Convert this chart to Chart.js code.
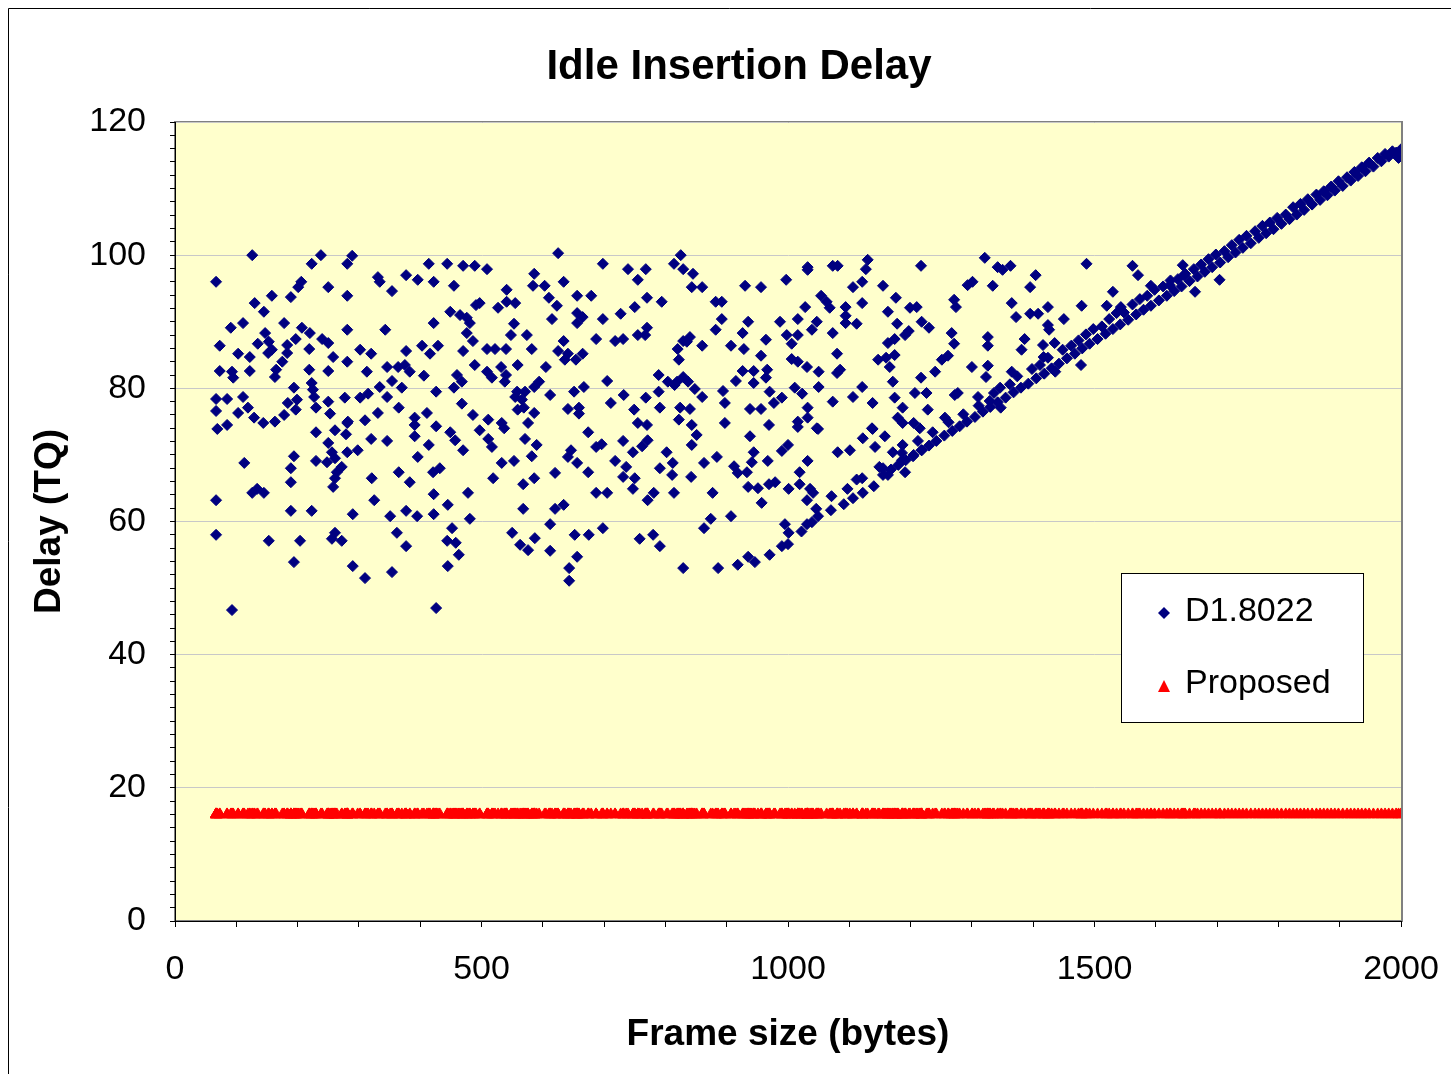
<!DOCTYPE html>
<html>
<head>
<meta charset="utf-8">
<title>Idle Insertion Delay</title>
<script src="https://cdn.jsdelivr.net/npm/chart.js@4.4.1/dist/chart.umd.min.js"></script>
<style>
    html, body { margin: 0; padding: 0; background: #ffffff; }
    #chart { display: block; }
</style>
</head>
<body>
<canvas id="chart" width="1451" height="1074"></canvas>
<script>
// Axis labels
const xTickLabels = [0, 500, 1000, 1500, 2000];
const yTickLabels = [0, 20, 40, 60, 80, 100, 120];

// D1.8022 - [frame size (bytes), delay (TQ)]
// cloud, 67..440 bytes
const d1CloudA = [
    [126,100],[238,100],[223,98.7],[289,99.9],[281,98.7],[67,96],[206,96],[201,95.2],[250,95.2],[331,96.7],
    [334,96],[354,94.6],[377,97],[396,96.3],[414,98.7],[422,96],[158,93.9],[189,93.7],[281,93.9],[130,92.8],
    [145,91.5],[91,89.1],[111,89.8],[178,89.8],[207,89.1],[220,88.3],[281,88.8],[343,88.8],[422,89.8],[73,86.4],
    [103,85.2],[122,84.7],[135,86.7],[147,88.3],[153,87],[152,85.3],[158,85.8],[183,86.5],[183,85.3],[197,87.4],
    [219,85.9],[240,87.4],[250,86.8],[258,84.7],[281,84],[302,85.8],[320,85.2],[377,85.6],[403,86.4],[416,85.2],
    [429,86.4],[73,82.6],[93,82.5],[95,81.6],[122,82.6],[165,82.8],[163,81.7],[175,84],[219,82.8],[250,82.6],
    [313,82.5],[346,83.2],[364,83.2],[375,83.5],[383,82.5],[354,81.1],[334,80.2],[370,80.1],[406,81.9],[426,79.5],
    [194,80.1],[223,80.8],[225,79.8],[67,78.4],[85,78.4],[111,78.7],[67,76.6],[103,76.3],[119,77.1],[129,75.6],
    [144,74.8],[163,75],[178,76],[184,77.8],[199,78.3],[197,76.8],[227,78.7],[230,77.1],[250,78],[253,76.2],
    [277,78.6],[281,74.8],[302,78.6],[315,79.2],[331,76.3],[310,75.2],[346,78.7],[365,77.1],[391,75.6],[391,74.5],
    [411,76.3],[426,74.3],[69,73.9],[85,74.5],[230,73.4],[261,73.7],[282,75],
    [279,73.1],[320,72.4],[346,72.1],[391,72.8],[414,71.5],[113,68.8],[194,69.8],[189,68],[230,69.1],[250,71.8],
    [256,70.4],[248,68.9],[261,69.5],[281,70.4],[298,70.7],[272,68.2],[264,67.4],[261,66.5],[258,65.2],[321,66.5],
    [365,67.4],[383,65.9],[396,69.7],[421,67.4],[432,68],[189,65.9],[126,64.3],[134,64.9],[145,64.3],[67,63.2],
    [325,63.2],[422,64.1],[189,61.6],[223,61.6],[290,61.1],[351,60.8],[377,61.6],[395,60.8],[422,61.1],[67,58],
    [153,57.1],[204,57.1],[256,57.4],[261,58.3],[272,57.1],[362,58.3],[377,56.3],[194,53.9],[290,53.3],[310,51.5],
    [354,52.4],[93,46.7],[426,47]
];
// cloud, 440..830 bytes
const d1CloudB = [
    [625,100.3],[444,98.7],[470,98.4],[489,98.4],[509,97.9],[455,95.4],[586,97.2],[584,95.4],[603,95.4],[634,96],
    [698,98.7],[739,97.9],[755,96.3],[768,97.9],[814,98.7],[825,100],[829,97.9],[541,94.8],[541,93],[555,92.8],
    [527,92.1],[491,92.5],[497,92.8],[610,93.6],[623,92.4],[656,93.9],[679,93.9],[750,92.2],[770,93.6],[794,93],
    [449,91.5],[465,91],[476,90.6],[481,89.8],[615,90.4],[656,91.3],[665,90.7],[656,89.8],[698,90.4],[727,91.2],
    [553,89.7],[548,88],[574,88],[476,88.3],[486,87.1],[582,85.9],[634,87.1],[687,87.4],[718,87.1],[731,87.4],
    [755,88],[770,89.1],[767,88],[470,85.6],[509,85.9],[522,85.9],[540,85.9],[625,85.6],[641,85.2],[636,84.3],
    [654,84.3],[665,85.2],[820,85.9],[822,84.3],[829,87.1],[489,83.5],[509,82.5],[532,83.2],[517,81.6],[540,82],
    [538,81],[559,83.5],[605,83.2],[460,82],[468,81],[455,80.1],[705,81.1],[789,82],[804,81],[819,81],
    [558,79.5],[555,78.7],[566,78.3],[571,79.5],[586,80.2],[594,81],[612,79],[651,79.5],[667,80.2],[711,77.8],
    [732,79],[768,78.6],[789,79.5],[791,77.1],[824,77.1],[468,77.7],[486,76],[511,75.3],[533,74.8],[497,73.7],
    [449,73.4],[559,76.8],[569,77.1],[586,76.3],[576,74.8],[641,76.9],[659,77.1],[659,76.2],[674,73.4],[749,76.8],
    [755,74.8],[770,74.5],[822,75.3],
    [457,72.2],[470,70.7],[511,72.4],[517,71.2],[537,74],[571,72.4],[590,71.5],[582,69.8],[533,68.8],[553,69.1],
    [519,66.5],[568,65.6],[586,66.5],[620,67.3],[687,71.2],[696,71.6],[646,70.7],[641,69.7],[656,68.8],[674,67.4],
    [718,69.1],[731,72.1],[747,70.4],[762,71.3],[771,72.2],[736,68.2],[731,66.7],[750,66.5],[747,64.9],[791,68],
    [812,68.8],[811,67],[802,70.4],[687,64.3],[705,64.3],[771,63.2],[781,64.3],[814,64.3],[445,62.5],[478,64.3],
    [481,60.4],[568,61.9],[620,61.9],[634,62.5],[612,59.6],[452,59],[444,57.1],[458,56.8],[463,55],[445,53.3],
    [550,58.3],[563,56.5],[576,55.7],[587,57.5],[612,55.6],[652,58],[675,58],[698,59],[656,54.7],[643,53],
    [643,51.1],[758,57.4],[780,58],[791,56.3],[829,53]
];
// cloud, 830..1000 bytes
const d1CloudC = [
    [845,97.2],[843,95.2],[860,95.2],[930,95.4],[956,95.2],[997,96.3],[882,93],[892,93],[892,90.4],[882,88.8],
    [935,90],[926,88.3],[987,90],[840,87.7],[835,87],[860,86.4],[907,86.4],[928,85.9],[964,87.3],[998,88],
    [956,84.9],[926,82.6],[944,82.6],[966,82.8],[964,81.6],[915,81.1],[944,80.8],[815,80.5],[829,81.7],[837,81],
    [848,79.9],[894,79.6],[897,77.8],[860,78.7],[970,79.5],[977,77.8],[990,78.6],[840,76.9],[938,76.9],[956,76.9],
    [843,74.5],[897,74.8],[969,74.5],
    [851,73],[843,71.5],[938,72.8],[863,68.8],[884,69.7],[842,66.7],[877,64.3],[912,68.3],[918,67.3],[933,67.4],
    [941,68.9],[944,70.4],[967,69.1],[990,70.6],[1000,71.5],[935,65.2],[951,65],[969,65.6],[979,65.9],[957,62.8],
    [874,60.4],[863,59],[907,60.8],[886,53],[918,53.5],[935,54.7],[946,53.9],[970,55],[990,56.3],[1000,56.6],
    [995,59.6],[1001,58.3],[1016,74.2],[1001,64.9]
];
// points above the rising edge, 1000..1710 bytes
const d1Upper = [
    [1032,98.2],[1032,97.8],[1073,98.4],[1081,98.4],[1130,99.3],[1127,97.9],[1217,98.4],[1121,96],[1106,95.2],[1155,95.4],
    [1176,93.6],[1054,93.9],[1063,93],[1068,92.1],[1028,92.2],[1094,92.2],[1121,92.8],[1163,91.5],[1199,92.1],[1210,92.2],
    [1016,90.4],[1047,90],[1039,88.8],[1094,90.9],[1094,89.8],[1112,89.7],[1073,88.3],[1178,89.7],[1197,88.6],[1218,90],
    [1016,88],[1006,86.7],[1080,85.2],[1163,86.8],[1174,87.4],[1191,88],[1174,85],[1147,84.3],[1160,84.6],[1166,83.2],
    [1006,84.4],[1016,84],[1031,83.2],[1050,82.5],[1080,82.3],[1085,82.8],[1011,80.1],[1023,79.2],[1050,80.2],[1073,78],
    [1106,78.7],[1121,80.2],[1138,77.8],[1171,81],[1174,78.6],[1207,79.3],[1217,81.6],[1032,77.1],[1187,77.1],[1016,75],
    [1032,75.6],[1047,74],[1137,74],[1179,75.6],[1187,74.8],[1205,74.8],
    [1019,67.4],[1032,69.1],[1019,65.6],[1036,64.9],[1031,63.2],[1041,64.3],[1049,73.9],[1081,70.4],[1101,70.7],[1122,72.5],
    [1138,73.9],[1142,71.2],[1158,72.8],[1171,70.4],[1187,71.5],[1204,69.8],[1218,70.7],[1155,68],[1163,67],[1186,69.2],
    [1191,67.4],[1215,74],[1121,66.5],
    [1321,99.6],[1342,98.2],[1350,97.8],[1363,98.4],[1487,98.7],[1562,98.4],[1571,97],[1592,95.4],[1530,94.5],[1404,97],
    [1395,95.2],[1293,95.5],[1301,96],[1334,95.4],[1271,93.3],[1274,92.2],[1365,92.8],[1372,90.7],[1395,91.2],[1408,91.2],
    [1424,92.2],[1450,90.4],[1479,92.4],[1520,92.4],[1543,92.2],[1230,89.1],[1267,88.3],[1271,86.7],[1326,87.7],[1326,86.4],
    [1386,87.4],[1381,85.8],[1424,89.5],[1426,88.8],[1416,86.5],[1417,84.7],[1435,86.8],[1251,84.3],[1261,84.9],[1300,83.2],
    [1326,83.4],[1323,81.7],[1365,82.5],[1478,83.5],[1240,82.5],[1346,80.1],[1272,79],[1277,79.3],[1226,79.3],[1228,76.8],
    [1310,78.7],[1329,78.1],[1347,77.1],[1256,75.6],
    [1644,98.5],[1623,95.5],[1664,94.5],[1704,96.3],[1646,97]
];
// the dense rising edge, 1020..2000 bytes
const d1Edge = [
    [1022,58.5],[1031,59.6],[1039,59.9],[1049,60.8],[1070,61.7],[1091,62.6],[1106,63.5],[1122,64.3],[1140,65.3],[1155,67],
    [1168,67.8],[1180,68.5],[1192,69.2],[1205,70],[1218,70.7],[1230,71.4],[1242,72.1],[1255,72.9],[1268,73.6],[1280,74.3],
    [1292,75],[1305,75.7],[1318,76.5],[1330,77.2],[1342,77.9],[1355,78.6],[1368,79.4],[1380,80.1],[1392,80.7],[1405,81.5],
    [1418,82.2],[1430,83],[1442,83.7],[1455,84.5],[1468,85.2],[1480,86],[1492,86.7],[1505,87.4],[1518,88.2],[1530,88.9],
    [1542,89.6],[1555,90.3],[1568,91.1],[1580,91.8],[1592,92.4],[1605,93.2],[1618,93.9],[1630,94.6],[1642,95.3],[1655,96.1],
    [1668,96.8],[1680,97.5],[1692,98.2],[1705,98.9],[1718,99.7],[1730,100.4],[1742,101.1],[1755,101.8],[1768,102.6],[1780,103.3],
    [1792,103.9],[1805,104.7],[1818,105.4],[1830,106.1],[1842,106.8],[1855,107.6],[1868,108.3],[1880,109],[1892,109.7],[1905,110.4],
    [1918,111.2],[1930,111.9],[1942,112.6],[1955,113.3],[1968,114.1],[1980,114.8],[1992,115.4],[2000,115.9],
    [1046,61.9],[1071,63.8],[1097,64.9],[1112,66.3],[1149,68.2],[1186,70.3],[1212,72.1],[1236,73.4],[1262,74.9],[1286,76.1],
    [1311,77.4],[1336,79.3],[1362,80.6],[1374,81.8],[1398,82.9],[1411,83.5],[1424,84.6],[1436,82.5],[1448,85.8],[1462,86.4],
    [1474,87.2],[1486,88.1],[1498,88.9],[1512,89.3],[1524,90.4],[1536,91.3],[1548,91.4],[1562,92.6],[1574,93.4],[1586,93.9],
    [1598,94.8],[1612,95.3],[1624,96.2],[1636,96.4],[1648,97.2],[1662,97.9],[1674,98.6],[1686,99.4],[1698,100.1],[1712,100.6],
    [1724,101.5],[1736,102.3],[1748,102.9],[1762,103.6],[1774,104.4],[1786,104.9],[1798,105.6],[1812,106.1],[1824,107.2],[1836,107.7],
    [1848,108.4],[1862,109.1],[1874,109.6],[1886,110.3],[1898,111.1],[1912,111.7],[1924,112.5],[1936,113.2],[1948,113.9],[1962,114.6],
    [1974,115.2],[1986,115.6],[1996,114.6]
];

// Proposed scheme: the same delay for every frame size
const proposedDelay = 16;

const fontFamily = "'Liberation Sans', Arial, sans-serif";

const d18022 = [].concat(d1CloudA, d1CloudB, d1CloudC, d1Upper, d1Edge);
const d18022Points = d18022.map(p => ({ x: p[0], y: p[1] }));
const proposedPoints = d18022.map(p => ({ x: p[0], y: proposedDelay }));

// Diamond / triangle markers for the legend
function drawDiamond(ctx, x, y, r, color) {
    ctx.beginPath();
    ctx.moveTo(x, y - r);
    ctx.lineTo(x + r, y);
    ctx.lineTo(x, y + r);
    ctx.lineTo(x - r, y);
    ctx.closePath();
    ctx.fillStyle = color;
    ctx.fill();
}

function drawTriangle(ctx, x, y, r, color) {
    ctx.beginPath();
    ctx.moveTo(x, y - r);
    ctx.lineTo(x + r, y + r);
    ctx.lineTo(x - r, y + r);
    ctx.closePath();
    ctx.fillStyle = color;
    ctx.fill();
}

// Plot background, frame, title and the boxed legend
const excelLook = {
    id: 'excelLook',
    beforeDraw(chart) {
        const ctx = chart.ctx;
        const a = chart.chartArea;
        ctx.save();
        ctx.fillStyle = '#ffffff';
        ctx.fillRect(0, 0, chart.width, chart.height);

        // outer chart border (top and left visible)
        ctx.strokeStyle = '#000000';
        ctx.lineWidth = 1;
        ctx.beginPath();
        ctx.moveTo(8.5, chart.height);
        ctx.lineTo(8.5, 8.5);
        ctx.lineTo(chart.width, 8.5);
        ctx.stroke();

        ctx.fillStyle = '#FFFFCC';
        ctx.fillRect(a.left, a.top, a.right - a.left, a.bottom - a.top);
        ctx.strokeStyle = '#808080';
        ctx.lineWidth = 2;
        ctx.strokeRect(a.left, a.top, a.right - a.left + 1, a.bottom - a.top);

        ctx.fillStyle = '#000000';
        ctx.font = 'bold 42px ' + fontFamily;
        ctx.textAlign = 'center';
        ctx.textBaseline = 'middle';
        ctx.fillText('Idle Insertion Delay', 739, 67);
        ctx.restore();
    },
    afterDraw(chart) {
        const ctx = chart.ctx;
        ctx.save();
        ctx.fillStyle = '#ffffff';
        ctx.fillRect(1121, 573, 242, 149);
        ctx.strokeStyle = '#000000';
        ctx.lineWidth = 1;
        ctx.strokeRect(1121.5, 573.5, 242, 149);

        drawDiamond(ctx, 1164, 613, 6, '#000080');
        drawTriangle(ctx, 1164, 686, 6, '#FF0000');

        ctx.fillStyle = '#000000';
        ctx.font = '34px ' + fontFamily;
        ctx.textAlign = 'left';
        ctx.textBaseline = 'middle';
        ctx.fillText('D1.8022', 1185, 612);
        ctx.fillText('Proposed', 1185, 684);
        ctx.restore();
    }
};

new Chart(document.getElementById('chart'), {
    type: 'scatter',
    data: {
        datasets: [
            {
                label: 'D1.8022',
                data: d18022Points,
                pointStyle: 'rectRot',
                pointRadius: 5.5,
                borderWidth: 1,
                backgroundColor: '#000080',
                borderColor: '#000080'
            },
            {
                label: 'Proposed',
                data: proposedPoints,
                pointStyle: 'triangle',
                pointRadius: 6.5,
                borderWidth: 1,
                backgroundColor: '#FF0000',
                borderColor: '#FF0000'
            }
        ]
    },
    options: {
        responsive: false,
        animation: false,
        events: [],
        layout: {
            padding: { left: 0, right: 50, top: 122, bottom: 0 }
        },
        plugins: {
            legend: { display: false },
            title: { display: false },
            tooltip: { enabled: false }
        },
        scales: {
            x: {
                type: 'linear',
                min: 0,
                max: 2000,
                afterFit: function(scale) {
                    scale.height = 153;
                    scale.paddingLeft = 0;
                    scale.paddingRight = 0;
                },
                ticks: {
                    stepSize: 100,
                    autoSkip: false,
                    maxRotation: 0,
                    padding: 22,
                    color: '#000000',
                    font: { family: fontFamily, size: 34 },
                    callback: function(value) {
                        return xTickLabels.includes(value) ? String(value) : '';
                    }
                },
                grid: {
                    drawOnChartArea: false,
                    drawTicks: true,
                    tickLength: 6,
                    tickColor: '#000000'
                },
                border: { display: true, color: '#000000', width: 1 },
                title: {
                    display: true,
                    text: 'Frame size (bytes)',
                    color: '#000000',
                    font: { family: fontFamily, size: 37, weight: 'bold' },
                    padding: { top: 0, bottom: 17 }
                }
            },
            y: {
                min: 0,
                max: 120,
                afterFit: function(scale) { scale.width = 175; },
                ticks: {
                    stepSize: 2,
                    autoSkip: false,
                    padding: 24,
                    color: '#000000',
                    font: { family: fontFamily, size: 34 },
                    callback: function(value) {
                        return yTickLabels.includes(value) ? String(value) : '';
                    }
                },
                grid: {
                    color: function(ctx) {
                        return ctx.tick && yTickLabels.includes(ctx.tick.value) ? '#c8c8c8' : 'rgba(0,0,0,0)';
                    },
                    drawTicks: true,
                    tickLength: 5,
                    tickColor: '#000000'
                },
                border: { display: true, color: '#000000', width: 1 },
                title: {
                    display: true,
                    text: 'Delay (TQ)',
                    color: '#000000',
                    font: { family: fontFamily, size: 37, weight: 'bold' },
                    padding: { top: 28, bottom: 0 }
                }
            }
        }
    },
    plugins: [excelLook]
});
</script>
</body>
</html>
